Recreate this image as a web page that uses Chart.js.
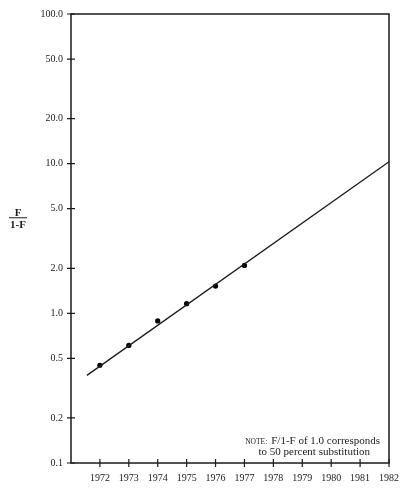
<!DOCTYPE html>
<html>
<head>
<meta charset="utf-8">
<script src="https://cdn.jsdelivr.net/npm/chart.js@4/dist/chart.umd.min.js"></script>
<style>
html,body{margin:0;padding:0;background:#fff;}
canvas{display:block;}
</style>
</head>
<body>
<canvas id="c" width="409" height="488"></canvas>
<script>
const years = [1972, 1973, 1974, 1975, 1976, 1977];
const ratio = [0.45, 0.61, 0.89, 1.16, 1.52, 2.09];
const trendYears = [1971.55, 1982];
const trendRatio = [0.385, 10.3];
const yTicks = [0.1, 0.2, 0.5, 1, 2, 5, 10, 20, 50, 100];
const xTicks = [1972, 1973, 1974, 1975, 1976, 1977, 1978, 1979, 1980, 1981, 1982];
const yTitleTop = 'F';
const yTitleBottom = '1-F';
const noteLabel = 'NOTE:';
const noteLine1 = 'F/1-F of 1.0 corresponds';
const noteLine2 = 'to 50 percent substitution';

const FONT = '"Liberation Serif", "DejaVu Serif", serif';
const INK = '#1a1a1a';

const framePlugin = {
  id: 'frame',
  afterDraw(chart) {
    const ctx = chart.ctx;
    const a = chart.chartArea;
    const xs = chart.scales.x, ys = chart.scales.y;
    ctx.save();
    ctx.strokeStyle = INK;
    ctx.lineWidth = 1.5;
    ctx.strokeRect(a.left, a.top, a.right - a.left, a.bottom - a.top);
    ctx.lineWidth = 1.2;
    ctx.beginPath();
    yTicks.forEach(v => {
      const y = ys.getPixelForValue(v);
      ctx.moveTo(a.left - 4, y); ctx.lineTo(a.left + 4, y);
    });
    xTicks.forEach(v => {
      const x = xs.getPixelForValue(v);
      ctx.moveTo(x, a.bottom - 4); ctx.lineTo(x, a.bottom + 4);
    });
    ctx.stroke();

    // y-axis title as a fraction
    const cx = 18, cy = ys.getPixelForValue(4.35);
    ctx.fillStyle = INK;
    ctx.font = 'bold 11px ' + FONT;
    ctx.textAlign = 'center';
    ctx.textBaseline = 'alphabetic';
    ctx.fillText(yTitleTop, cx, cy - 2);
    ctx.fillText(yTitleBottom, cx, cy + 10);
    ctx.lineWidth = 1;
    ctx.beginPath();
    ctx.moveTo(cx - 9, cy); ctx.lineTo(cx + 9, cy);
    ctx.stroke();

    // note
    ctx.textAlign = 'left';
    ctx.font = '11px ' + FONT;
    const w1 = ctx.measureText(noteLine1).width;
    const w2 = ctx.measureText(noteLine2).width;
    ctx.font = '7.5px ' + FONT;
    const wn = ctx.measureText(noteLabel).width;
    const rightEdge = a.right - 9;
    const x0 = rightEdge - w1 - wn - 4;
    const ny = a.bottom - 19;
    ctx.fillText(noteLabel, x0, ny);
    ctx.font = '11px ' + FONT;
    ctx.fillText(noteLine1, x0 + wn + 4, ny);
    ctx.fillText(noteLine2, rightEdge - 10 - w2, ny + 11);
    ctx.restore();
  }
};

new Chart(document.getElementById('c'), {
  type: 'scatter',
  data: {
    datasets: [
      {
        data: trendYears.map((x, i) => ({x, y: trendRatio[i]})),
        showLine: true,
        borderColor: INK,
        borderWidth: 1.3,
        pointRadius: 0,
        fill: false
      },
      {
        data: years.map((x, i) => ({x, y: ratio[i]})),
        backgroundColor: '#000',
        borderColor: '#000',
        pointRadius: 2.6,
        borderWidth: 0
      }
    ]
  },
  options: {
    responsive: false,
    animation: false,
    layout: {padding: {left: 0, right: 20, top: 13, bottom: 0}},
    plugins: {legend: {display: false}, tooltip: {enabled: false}},
    scales: {
      x: {
        type: 'linear',
        min: 1971,
        max: 1982,
        grid: {display: false, drawTicks: false},
        border: {display: false},
        afterBuildTicks: s => { s.ticks = xTicks.map(v => ({value: v})); },
        afterFit: s => { s.height = 25; },
        ticks: {
          callback: v => String(v),
          color: INK,
          font: {family: FONT, size: 10},
          padding: 9,
          maxRotation: 0,
          autoSkip: false
        }
      },
      y: {
        type: 'logarithmic',
        min: 0.1,
        max: 100,
        grid: {display: false, drawTicks: false},
        border: {display: false},
        afterBuildTicks: s => { s.ticks = yTicks.map(v => ({value: v})); },
        afterFit: s => { s.width = 71; },
        ticks: {
          callback: v => Number(v).toFixed(1),
          color: INK,
          font: {family: FONT, size: 10},
          padding: 8,
          autoSkip: false
        }
      }
    }
  },
  plugins: [framePlugin]
});
</script>
</body>
</html>
